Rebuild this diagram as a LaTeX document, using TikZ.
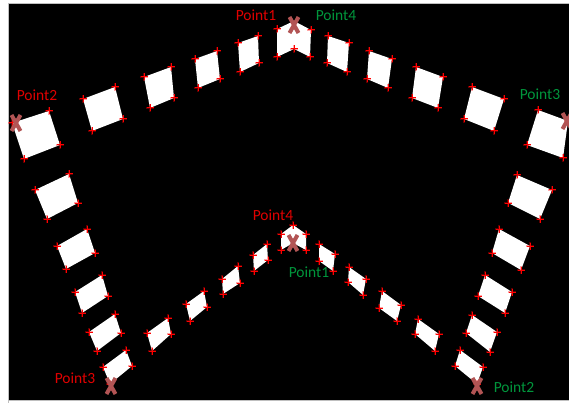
\documentclass[tikz,border=0pt]{standalone}
\usepackage{fontspec}
\setmainfont{Carlito}
\definecolor{lblred}{RGB}{225,0,0}
\definecolor{lblgreen}{RGB}{0,150,60}
\definecolor{xmarkcol}{RGB}{178,84,84}
\tikzset{
  cornermk/.pic={
    \draw[red,line width=2.8pt,opacity=.35] (-4,0)--(4,0) (0,-4)--(0,4);
    \draw[red,line width=1pt] (-3.5,0)--(3.5,0) (0,-3.5)--(0,3.5);
  },
  xmk/.pic={
    \draw[xmarkcol,line width=4pt] (-4.5,-8)--(4.5,8) (-4.5,8)--(4.5,-8);
  },
  lbl/.style={font=\fontsize{15.5}{18}\selectfont,inner sep=0pt},
  redlbl/.style={lbl,text=lblred},
  greenlbl/.style={lbl,text=lblgreen},
  tile/.style={fill=white}
}
\newcommand\qtile[4]{%
  \fill[tile] #1--#2--#3--#4--cycle;
  \foreach \p in {#1,#2,#3,#4} \path \p pic {cornermk};
}
\begin{document}
\begin{tikzpicture}[x=1pt,y=-1pt]
\useasboundingbox (0,0) rectangle (569,403);
\fill[white] (0,0) rectangle (569,403);
\fill[black] (8,3) rectangle (569,400);
\draw[gray!50,line width=0.8pt] (8,403)--(8,3)--(569,3) (8,400)--(569,400);

% outer top-left row
\qtile{(12,123)}{(49,111)}{(60,145)}{(24,159)}
\qtile{(83,99)}{(115,87)}{(123,119)}{(92,131)}
\qtile{(144,77)}{(171,67)}{(174,98)}{(150,108)}
\qtile{(195,59)}{(217,51)}{(220,79)}{(198,88)}
\qtile{(238,43)}{(258,36)}{(259,63)}{(240,72)}
% outer top center chevron
\fill[tile] (277,29)--(294,21)--(311,30)--(310,57)--(294,49)--(277,57)--cycle;
\foreach \p in {(277,29),(311,30),(310,57),(294,49),(277,57)} \path \p pic {cornermk};
% outer top-right row
\qtile{(328,36)}{(349,43)}{(347,72)}{(327,63)}
\qtile{(369,51)}{(392,59)}{(388,88)}{(367,79)}
\qtile{(416,67)}{(443,77)}{(438,108)}{(412,98)}
\qtile{(472,87)}{(504,99)}{(494,131)}{(464,119)}
\qtile{(538,110)}{(568,121)}{(563,158)}{(527,145)}
% left column
\qtile{(35,190)}{(69,174)}{(78,203)}{(47,219)}
\qtile{(57,246)}{(87,229)}{(95,253)}{(66,269)}
\qtile{(75,292)}{(102,275)}{(108,296)}{(82,313)}
\qtile{(89,332)}{(115,314)}{(121,333)}{(97,351)}
\qtile{(103,367)}{(126,350)}{(132,366)}{(110,384)}
% right column
\qtile{(517,175)}{(552,190)}{(540,219)}{(508,203)}
\qtile{(499,229)}{(530,246)}{(521,270)}{(492,253)}
\qtile{(485,275)}{(512,292)}{(505,313)}{(478,296)}
\qtile{(472,315)}{(497,332)}{(490,352)}{(466,333)}
% inner left row
\qtile{(147,333)}{(168,318)}{(171,334)}{(152,351)}
\qtile{(186,304)}{(204,291)}{(207,307)}{(190,321)}
\qtile{(222,279)}{(238,266)}{(240,283)}{(223,294)}
\qtile{(253,255)}{(267,244)}{(268,260)}{(254,271)}
% inner center chevron
\fill[tile] (281,234)--(293,225)--(306,234)--(306,250)--(293,243)--(281,250)--cycle;
\foreach \p in {(281,234),(293,225),(306,234),(306,250),(281,250)} \path \p pic {cornermk};
% inner right row
\qtile{(319,244)}{(335,254)}{(333,271)}{(319,261)}
\qtile{(349,267)}{(366,279)}{(363,295)}{(348,282)}
\qtile{(382,291)}{(401,305)}{(397,321)}{(379,308)}
\qtile{(418,319)}{(439,334)}{(435,351)}{(415,334)}
\qtile{(460,350)}{(483,367)}{(477,384)}{(455,366)}

% key point markers
\path (294,25) pic {xmk};
\path (16,123) pic {xmk};
\path (567,121) pic {xmk};
\path (111,386) pic {xmk};
\path (293,243) pic {xmk};
\path (477,386) pic {xmk};

% labels
\node[redlbl] (o1) at (256,15) {Point1};
\node[greenlbl] (o4) at (336,15) {Point4};
\node[redlbl] (o2) at (37,95) {Point2};
\node[greenlbl] (o3) at (540,94) {Point3};
\node[redlbl] (i3) at (75,378) {Point3};
\node[redlbl] (i4) at (273,215) {Point4};
\node[greenlbl] (i1) at (309,272) {Point1};
\node[greenlbl] (i2) at (514,387) {Point2};
\end{tikzpicture}
\end{document}
